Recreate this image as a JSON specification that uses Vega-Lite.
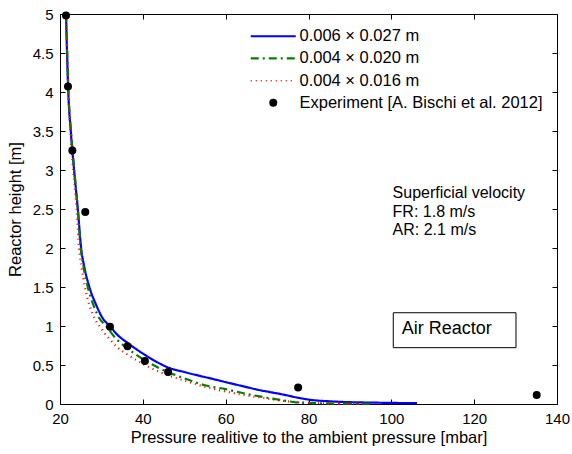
{
  "$schema": "https://vega.github.io/schema/vega-lite/v6.json",
  "width": 497,
  "height": 390,
  "autosize": {"type": "none"},
  "padding": {"left": 60, "top": 14, "right": 15, "bottom": 50},
  "background": "white",
  "config": {
    "font": "Liberation Sans",
    "view": {"stroke": "#000", "strokeWidth": 1},
    "axis": {
      "grid": false, "domain": false, "tickColor": "#000", "tickSize": -5, "tickWidth": 1,
      "labelColor": "#000", "labelFontSize": 15, "labelFont": "Liberation Sans",
      "titleColor": "#000", "titleFontSize": 16.5, "titleFontWeight": "normal", "titleFont": "Liberation Sans"
    }
  },
  "datasets": {
    "curves": [
      {"s": "0.006 × 0.027 m", "p": 21.45, "h": 5},
      {"s": "0.006 × 0.027 m", "p": 21.7, "h": 4.5},
      {"s": "0.006 × 0.027 m", "p": 22.0, "h": 4.0},
      {"s": "0.006 × 0.027 m", "p": 22.6, "h": 3.5},
      {"s": "0.006 × 0.027 m", "p": 23.4, "h": 3.0},
      {"s": "0.006 × 0.027 m", "p": 24.3, "h": 2.5},
      {"s": "0.006 × 0.027 m", "p": 25.1, "h": 2.0},
      {"s": "0.006 × 0.027 m", "p": 25.9, "h": 1.75},
      {"s": "0.006 × 0.027 m", "p": 27.1, "h": 1.5},
      {"s": "0.006 × 0.027 m", "p": 28.9, "h": 1.25},
      {"s": "0.006 × 0.027 m", "p": 30.3, "h": 1.1},
      {"s": "0.006 × 0.027 m", "p": 32.0, "h": 1.0},
      {"s": "0.006 × 0.027 m", "p": 34.0, "h": 0.88},
      {"s": "0.006 × 0.027 m", "p": 36.4, "h": 0.78},
      {"s": "0.006 × 0.027 m", "p": 38.5, "h": 0.7},
      {"s": "0.006 × 0.027 m", "p": 40.5, "h": 0.63},
      {"s": "0.006 × 0.027 m", "p": 43.0, "h": 0.55},
      {"s": "0.006 × 0.027 m", "p": 46.0, "h": 0.47},
      {"s": "0.006 × 0.027 m", "p": 50.0, "h": 0.41},
      {"s": "0.006 × 0.027 m", "p": 53.8, "h": 0.36},
      {"s": "0.006 × 0.027 m", "p": 57.0, "h": 0.32},
      {"s": "0.006 × 0.027 m", "p": 60.0, "h": 0.28},
      {"s": "0.006 × 0.027 m", "p": 64.0, "h": 0.23},
      {"s": "0.006 × 0.027 m", "p": 68.0, "h": 0.18},
      {"s": "0.006 × 0.027 m", "p": 71.0, "h": 0.15},
      {"s": "0.006 × 0.027 m", "p": 74.0, "h": 0.12},
      {"s": "0.006 × 0.027 m", "p": 77.5, "h": 0.08},
      {"s": "0.006 × 0.027 m", "p": 81.0, "h": 0.05},
      {"s": "0.006 × 0.027 m", "p": 85.0, "h": 0.035},
      {"s": "0.006 × 0.027 m", "p": 89.0, "h": 0.025},
      {"s": "0.006 × 0.027 m", "p": 95.0, "h": 0.018},
      {"s": "0.006 × 0.027 m", "p": 100.0, "h": 0.014},
      {"s": "0.006 × 0.027 m", "p": 106.2, "h": 0.011},
      {"s": "0.004 × 0.020 m", "p": 21.45, "h": 5},
      {"s": "0.004 × 0.020 m", "p": 21.75, "h": 4.5},
      {"s": "0.004 × 0.020 m", "p": 22.05, "h": 4.0},
      {"s": "0.004 × 0.020 m", "p": 22.65, "h": 3.5},
      {"s": "0.004 × 0.020 m", "p": 23.45, "h": 3.0},
      {"s": "0.004 × 0.020 m", "p": 24.3, "h": 2.5},
      {"s": "0.004 × 0.020 m", "p": 25.0, "h": 2.0},
      {"s": "0.004 × 0.020 m", "p": 25.7, "h": 1.75},
      {"s": "0.004 × 0.020 m", "p": 26.7, "h": 1.5},
      {"s": "0.004 × 0.020 m", "p": 28.2, "h": 1.25},
      {"s": "0.004 × 0.020 m", "p": 29.5, "h": 1.1},
      {"s": "0.004 × 0.020 m", "p": 31.1, "h": 1.0},
      {"s": "0.004 × 0.020 m", "p": 33.5, "h": 0.84},
      {"s": "0.004 × 0.020 m", "p": 36.4, "h": 0.71},
      {"s": "0.004 × 0.020 m", "p": 40.5, "h": 0.56},
      {"s": "0.004 × 0.020 m", "p": 46.0, "h": 0.41},
      {"s": "0.004 × 0.020 m", "p": 50.0, "h": 0.33},
      {"s": "0.004 × 0.020 m", "p": 55.0, "h": 0.24},
      {"s": "0.004 × 0.020 m", "p": 60.0, "h": 0.19},
      {"s": "0.004 × 0.020 m", "p": 65.0, "h": 0.13},
      {"s": "0.004 × 0.020 m", "p": 70.0, "h": 0.08},
      {"s": "0.004 × 0.020 m", "p": 74.0, "h": 0.045},
      {"s": "0.004 × 0.020 m", "p": 77.0, "h": 0.022},
      {"s": "0.004 × 0.020 m", "p": 82.0, "h": 0.01},
      {"s": "0.004 × 0.020 m", "p": 88.0, "h": 0.005},
      {"s": "0.004 × 0.020 m", "p": 95.0, "h": 0.003},
      {"s": "0.004 × 0.016 m", "p": 21.45, "h": 5},
      {"s": "0.004 × 0.016 m", "p": 21.7, "h": 4.5},
      {"s": "0.004 × 0.016 m", "p": 22.0, "h": 4.0},
      {"s": "0.004 × 0.016 m", "p": 22.5, "h": 3.5},
      {"s": "0.004 × 0.016 m", "p": 23.2, "h": 3.0},
      {"s": "0.004 × 0.016 m", "p": 24.0, "h": 2.5},
      {"s": "0.004 × 0.016 m", "p": 24.6, "h": 2.0},
      {"s": "0.004 × 0.016 m", "p": 25.2, "h": 1.75},
      {"s": "0.004 × 0.016 m", "p": 26.0, "h": 1.5},
      {"s": "0.004 × 0.016 m", "p": 27.2, "h": 1.25},
      {"s": "0.004 × 0.016 m", "p": 28.3, "h": 1.1},
      {"s": "0.004 × 0.016 m", "p": 29.5, "h": 1.0},
      {"s": "0.004 × 0.016 m", "p": 32.0, "h": 0.83},
      {"s": "0.004 × 0.016 m", "p": 34.0, "h": 0.72},
      {"s": "0.004 × 0.016 m", "p": 36.4, "h": 0.63},
      {"s": "0.004 × 0.016 m", "p": 40.5, "h": 0.5},
      {"s": "0.004 × 0.016 m", "p": 46.0, "h": 0.37},
      {"s": "0.004 × 0.016 m", "p": 50.0, "h": 0.3},
      {"s": "0.004 × 0.016 m", "p": 55.0, "h": 0.22},
      {"s": "0.004 × 0.016 m", "p": 60.0, "h": 0.16},
      {"s": "0.004 × 0.016 m", "p": 65.0, "h": 0.11},
      {"s": "0.004 × 0.016 m", "p": 70.0, "h": 0.07},
      {"s": "0.004 × 0.016 m", "p": 74.0, "h": 0.04},
      {"s": "0.004 × 0.016 m", "p": 78.0, "h": 0.02},
      {"s": "0.004 × 0.016 m", "p": 84.0, "h": 0.008},
      {"s": "0.004 × 0.016 m", "p": 93.0, "h": 0.003}
    ],
    "exp": [
      {"s": "Experiment [A. Bischi et al. 2012]", "p": 21.45, "h": 4.98},
      {"s": "Experiment [A. Bischi et al. 2012]", "p": 21.93, "h": 4.07},
      {"s": "Experiment [A. Bischi et al. 2012]", "p": 22.98, "h": 3.25},
      {"s": "Experiment [A. Bischi et al. 2012]", "p": 26.1, "h": 2.46},
      {"s": "Experiment [A. Bischi et al. 2012]", "p": 32.07, "h": 0.99},
      {"s": "Experiment [A. Bischi et al. 2012]", "p": 36.3, "h": 0.74},
      {"s": "Experiment [A. Bischi et al. 2012]", "p": 40.5, "h": 0.55},
      {"s": "Experiment [A. Bischi et al. 2012]", "p": 46.1, "h": 0.41},
      {"s": "Experiment [A. Bischi et al. 2012]", "p": 77.5, "h": 0.21},
      {"s": "Experiment [A. Bischi et al. 2012]", "p": 135.1, "h": 0.115}
    ],
    "notes": [
      {"t": "Superficial velocity", "p": 100.3, "h": 2.705},
      {"t": "FR: 1.8 m/s", "p": 100.3, "h": 2.46},
      {"t": "AR: 2.1 m/s", "p": 100.3, "h": 2.23}
    ],
    "box": [
      {"t": "Air Reactor", "p1": 100.47, "p2": 130.1, "h1": 1.17, "h2": 0.722, "tp": 102.5, "th": 0.96}
    ]
  },
  "layer": [
    {
      "data": {"name": "curves"},
      "mark": {"type": "line", "interpolate": "monotone"},
      "encoding": {
        "x": {"field": "p", "type": "quantitative", "scale": {"domain": [20, 140], "nice": false, "zero": false},
              "axis": {"orient": "bottom", "values": [20, 40, 60, 80, 100, 120, 140], "format": "d", "title": "Pressure realitive to the ambient pressure [mbar]", "labelPadding": 12, "titlePadding": 3, "labelFlush": false}},
        "y": {"field": "h", "type": "quantitative", "scale": {"domain": [0, 5], "nice": false},
              "axis": {"orient": "left", "values": [0, 0.5, 1, 1.5, 2, 2.5, 3, 3.5, 4, 4.5, 5], "format": "~g", "title": "Reactor height [m]", "labelPadding": 12, "titlePadding": 9, "labelFlush": false}},
        "color": {"field": "s", "type": "nominal",
          "scale": {"domain": ["0.006 × 0.027 m", "0.004 × 0.020 m", "0.004 × 0.016 m", "Experiment [A. Bischi et al. 2012]"],
                    "range": ["#0000ff", "#008000", "#ff0000", "#000000"]},
          "legend": {
            "orient": "none", "legendX": 205, "legendY": 14, "title": null, "padding": 0,
            "symbolSize": 100, "symbolType": "stroke", "labelOffset": 18, "rowPadding": 5.2,
            "labelFontSize": 16.5, "labelFont": "Liberation Sans", "labelColor": "#000", "labelLimit": 400,
            "encode": {"symbols": {"update": {
              "shape": {"signal": "datum.value === 'Experiment [A. Bischi et al. 2012]' ? 'circle' : 'stroke'"},
              "size": {"signal": "datum.value === 'Experiment [A. Bischi et al. 2012]' ? 64 : 2025"},
              "strokeDash": {"signal": "datum.value === '0.004 × 0.020 m' ? [8,4,2,4] : (datum.value === '0.004 × 0.016 m' ? [1,4] : [1,0])"},
              "fill": {"signal": "datum.value === 'Experiment [A. Bischi et al. 2012]' ? '#000' : 'transparent'"},
              "strokeWidth": {"signal": "datum.value === 'Experiment [A. Bischi et al. 2012]' ? 0 : (datum.value === '0.004 × 0.016 m' ? 1.5 : 2.2)"},
              "opacity": {"value": 1}
            }}}
          }},
        "strokeDash": {"field": "s", "type": "nominal",
          "scale": {"domain": ["0.006 × 0.027 m", "0.004 × 0.020 m", "0.004 × 0.016 m"], "range": [[1, 0], [8, 4, 2, 4], [1, 4]]},
          "legend": null},
        "strokeWidth": {"field": "s", "type": "ordinal",
          "scale": {"domain": ["0.006 × 0.027 m", "0.004 × 0.020 m", "0.004 × 0.016 m"], "range": [2.2, 2.2, 1.5]},
          "legend": null}
      }
    },
    {
      "data": {"name": "exp"},
      "mark": {"type": "point", "filled": true, "size": 64, "opacity": 1},
      "encoding": {
        "x": {"field": "p", "type": "quantitative", "axis": null},
        "y": {"field": "h", "type": "quantitative", "axis": null},
        "color": {"field": "s", "type": "nominal"}
      }
    },
    {
      "data": {"name": "notes"},
      "mark": {"type": "text", "align": "left", "baseline": "middle", "fontSize": 16, "font": "Liberation Sans", "color": "#000"},
      "encoding": {
        "x": {"field": "p", "type": "quantitative", "axis": null},
        "y": {"field": "h", "type": "quantitative", "axis": null},
        "text": {"field": "t"}
      }
    },
    {
      "data": {"name": "box"},
      "mark": {"type": "rect", "fill": "white", "stroke": "#000", "strokeWidth": 1},
      "encoding": {
        "x": {"field": "p1", "type": "quantitative",
              "axis": {"orient": "top", "values": [20, 40, 60, 80, 100, 120, 140], "labels": false, "title": null}},
        "x2": {"field": "p2"},
        "y": {"field": "h1", "type": "quantitative",
              "axis": {"orient": "right", "values": [0, 0.5, 1, 1.5, 2, 2.5, 3, 3.5, 4, 4.5, 5], "labels": false, "title": null}},
        "y2": {"field": "h2"}
      }
    },
    {
      "data": {"name": "box"},
      "mark": {"type": "text", "align": "left", "baseline": "middle", "fontSize": 18, "font": "Liberation Sans", "color": "#000"},
      "encoding": {
        "x": {"field": "tp", "type": "quantitative", "axis": null},
        "y": {"field": "th", "type": "quantitative", "axis": null},
        "text": {"field": "t"}
      }
    }
  ],
  "resolve": {"axis": {"x": "independent", "y": "independent"}}
}
